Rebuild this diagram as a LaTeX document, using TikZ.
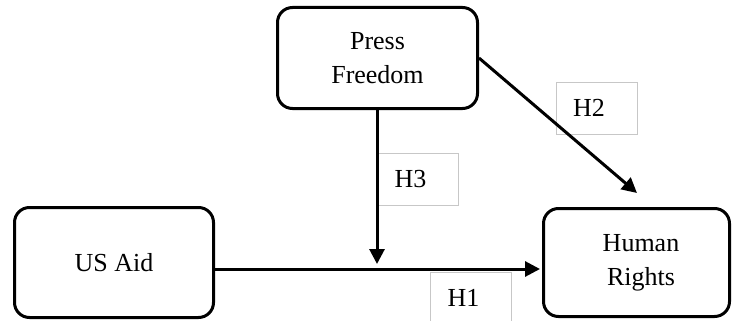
\documentclass[tikz,border=0pt]{standalone}
\usepackage{fontspec}
\setmainfont{Liberation Serif}
\usetikzlibrary{arrows.meta}
\begin{document}
\begin{tikzpicture}[x=1pt,y=-1pt,
  mainbox/.style={draw=black, line width=3pt, rounded corners=15pt, align=center,
    font=\fontsize{26}{34}\selectfont, inner sep=0pt},
  hbox/.style={draw=black!22, line width=0.9pt, minimum width=81pt, minimum height=52pt,
    inner xsep=17pt, text width=47pt, align=left, font=\fontsize{26}{30}\selectfont},
  arr/.style={line width=3pt, -{Triangle[length=15pt,width=15pt]}}]
\useasboundingbox (0,0) rectangle (733,321);
\clip (0,0) rectangle (733,321);
\node[mainbox, minimum width=200pt, minimum height=101pt] (pf) at (377.5,58) {Press\\Freedom};
\node[mainbox, minimum width=199pt, minimum height=110pt] (usaid) at (114,262.5) {US Aid};
\node[mainbox, minimum width=186pt, minimum height=108pt] (hr) at (636.5,262.5) {\hspace*{9pt}Human\\\hspace*{9pt}Rights};
\node[hbox] (h2) at (596.5,108) {H2};
\node[hbox] (h3) at (418,179) {H3};
\node[hbox] (h1) at (471,298) {H1};
\coordinate (vend) at (377,264);
\coordinate (dend) at (637,193);
\draw[arr] (pf.south -| vend) -- (vend);
\draw[arr] ([yshift=-6.5pt]usaid.east) -- ([yshift=-6.5pt,xshift=-2pt]hr.west);
\draw[arr] (pf.east) -- (dend);
\end{tikzpicture}
\end{document}
